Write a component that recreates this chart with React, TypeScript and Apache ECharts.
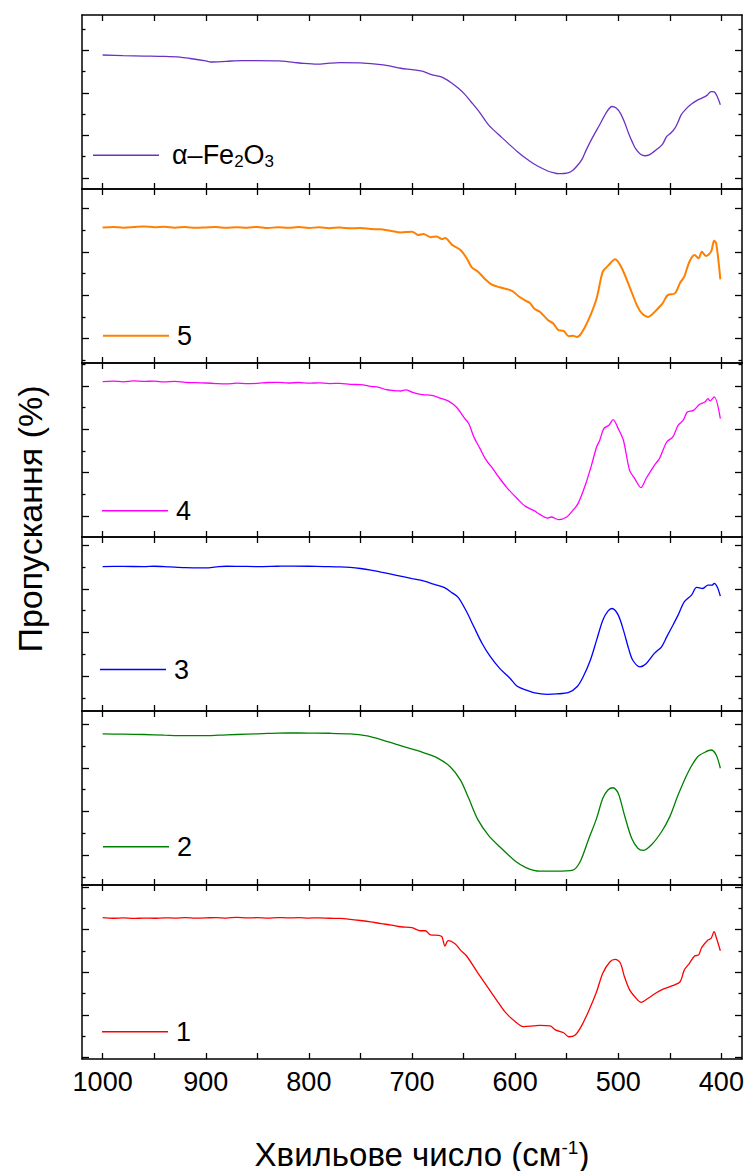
import React, { useEffect, useRef } from "react";
import * as echarts from "echarts";

// ---------- DATA ----------
const seriesNames = ["α–Fe2O3", "5", "4", "3", "2", "1"];
const seriesColors = ["#6A32C4", "#FF8000", "#FF00FF", "#0000FF", "#008000", "#FF0000"];

const xTickValues = [400, 450, 500, 550, 600, 650, 700, 750, 800, 850, 900, 950, 1000];
const xLabelValues = [400, 500, 600, 700, 800, 900, 1000];

const fe2o3Wn = [1000, 980, 960, 940, 925, 915, 900, 895, 880, 865, 850, 830, 815, 805, 792, 780, 770, 750, 735, 722, 711, 700, 690, 681, 671, 663, 655, 649, 643, 635, 626, 620, 614, 606, 598, 590, 582, 575, 569, 563, 558, 553, 548, 544, 540, 535, 531, 525, 518, 511, 506, 502, 498, 494, 490, 486, 483, 479, 474, 470, 466, 461, 457, 453, 449, 445, 442, 439, 434, 429, 424, 419, 414, 410, 407, 404, 401];
const fe2o3T = [77.0, 76.6, 76.4, 76.2, 75.8, 75.0, 73.6, 73.0, 73.4, 73.8, 73.8, 73.6, 72.8, 72.2, 71.8, 72.3, 72.6, 72.5, 71.8, 70.8, 69.4, 68.6, 67.7, 65.8, 64.3, 61.5, 57.9, 54.5, 50.3, 44.5, 37.0, 33.4, 30.2, 25.8, 21.6, 17.8, 14.5, 12.2, 10.5, 9.4, 8.8, 8.9, 9.4, 10.8, 13.2, 17.2, 22.5, 29.5, 36.9, 44.5, 47.4, 46.5, 43.6, 38.5, 32.1, 26.5, 23.0, 20.3, 19.1, 19.6, 21.2, 23.5, 25.8, 30.2, 32.2, 35.0, 38.5, 42.6, 46.2, 48.9, 50.8, 52.2, 53.8, 56.0, 55.8, 53.2, 48.4];

const s5Wn = [1000, 990, 980, 970, 960, 950, 940, 930, 920, 910, 900, 890, 880, 870, 860, 850, 840, 830, 820, 810, 800, 790, 780, 770, 760, 750, 740, 730, 720, 711, 700, 694, 689, 682, 676, 671, 668, 661, 653, 647, 642, 636, 629, 623, 615, 603, 597, 590, 586, 581, 576, 568, 563, 558, 553, 548, 544, 540, 536, 529, 521, 515, 510, 503, 497, 489, 482, 477, 471, 467, 463, 457, 452, 445, 440, 436, 431, 426, 422, 419, 415, 410, 407, 405, 401];
const s5T = [77.9, 78.2, 77.8, 78.1, 78.5, 78.0, 78.3, 77.8, 78.1, 77.7, 77.9, 78.1, 77.7, 78.0, 77.8, 78.2, 77.6, 78.0, 77.7, 78.1, 77.6, 78.0, 77.5, 77.9, 77.4, 77.6, 77.0, 76.8, 75.9, 75.0, 75.5, 73.6, 74.2, 72.3, 72.7, 71.2, 71.8, 67.9, 65.0, 60.2, 55.0, 52.5, 48.1, 45.2, 43.5, 41.5, 38.5, 35.8, 34.6, 31.0, 29.4, 24.6, 22.7, 18.9, 18.5, 15.4, 15.6, 15.0, 16.9, 24.6, 37.1, 52.5, 55.8, 59.6, 55.0, 43.8, 33.3, 28.5, 26.5, 28.0, 30.4, 34.3, 39.0, 40.0, 46.1, 49.6, 58.2, 62.1, 60.2, 64.0, 61.5, 64.0, 70.2, 68.8, 48.1];

const s4Wn = [1000, 990, 980, 970, 960, 950, 940, 930, 920, 910, 900, 890, 880, 870, 860, 850, 840, 830, 820, 810, 800, 790, 780, 770, 760, 750, 740, 732, 725, 718, 711, 706, 700, 690, 681, 671, 665, 657, 650, 645, 640, 634, 629, 621, 616, 608, 598, 590, 582, 576, 569, 565, 558, 550, 544, 539, 532, 526, 521, 518, 514, 509, 505, 500, 495, 489, 484, 478, 473, 465, 460, 453, 447, 442, 437, 433, 427, 421, 416, 413, 411, 407, 401];
const s4T = [89.3, 89.6, 89.2, 89.7, 89.4, 89.6, 89.1, 89.4, 88.9, 88.7, 88.5, 88.2, 88.0, 88.4, 88.1, 88.3, 88.8, 88.9, 88.5, 88.8, 88.4, 88.6, 88.2, 88.3, 87.7, 87.6, 86.6, 86.0, 84.7, 84.2, 83.9, 84.6, 83.3, 81.8, 81.4, 79.5, 78.2, 74.7, 69.0, 65.2, 57.5, 50.8, 45.1, 38.7, 34.5, 28.4, 22.1, 17.6, 15.3, 13.0, 10.9, 11.5, 10.0, 11.5, 15.3, 19.2, 29.7, 41.2, 51.7, 55.5, 62.3, 64.2, 67.5, 62.3, 55.6, 38.3, 33.6, 28.4, 33.6, 41.2, 45.1, 54.6, 57.5, 64.2, 67.1, 71.8, 72.8, 76.3, 77.6, 79.5, 78.2, 80.5, 68.0];

const s3Wn = [1000, 980, 960, 950, 935, 920, 900, 890, 880, 865, 850, 830, 815, 800, 785, 770, 760, 750, 740, 730, 715, 700, 689, 679, 669, 661, 655, 647, 640, 632, 624, 615, 605, 598, 589, 581, 569, 560, 548, 540, 534, 527, 521, 515, 510, 506, 500, 495, 490, 486, 479, 473, 465, 458, 453, 447, 442, 436, 429, 424, 418, 413, 409, 407, 404, 401];
const s3T = [83.0, 83.1, 83.0, 83.2, 82.8, 82.4, 82.3, 82.8, 83.2, 83.1, 83.0, 83.2, 83.3, 83.2, 83.0, 82.8, 82.5, 81.9, 81.0, 79.8, 78.0, 76.1, 74.8, 72.9, 71.0, 67.9, 65.2, 57.0, 48.4, 38.8, 31.2, 24.5, 18.8, 14.2, 12.0, 10.4, 9.6, 9.8, 10.7, 13.9, 19.7, 29.3, 40.7, 52.2, 57.4, 58.9, 55.1, 46.5, 36.0, 29.3, 25.4, 27.2, 33.1, 36.9, 42.6, 49.3, 55.1, 62.7, 66.6, 71.0, 70.4, 72.3, 72.3, 73.3, 71.3, 66.0];

const s2Wn = [1000, 980, 960, 940, 920, 900, 880, 860, 840, 820, 800, 780, 760, 745, 730, 715, 698, 687, 676, 663, 653, 645, 636, 626, 615, 600, 589, 576, 560, 544, 537, 529, 521, 515, 510, 505, 500, 494, 487, 481, 476, 468, 458, 450, 442, 432, 423, 416, 410, 405, 401];
const s2T = [86.8, 86.7, 86.5, 86.1, 85.8, 85.8, 86.3, 86.7, 87.1, 87.4, 87.3, 87.2, 86.8, 85.8, 83.6, 80.8, 77.8, 75.7, 73.2, 68.0, 60.3, 49.8, 37.4, 28.7, 22.0, 13.8, 9.9, 8.0, 8.0, 8.6, 13.4, 25.9, 38.3, 49.8, 54.6, 55.9, 52.7, 40.2, 26.8, 21.1, 19.9, 23.0, 30.6, 39.3, 51.7, 65.1, 73.7, 76.3, 77.6, 74.7, 67.1];

const s1Wn = [1000, 990, 980, 970, 960, 950, 940, 930, 920, 910, 900, 890, 880, 870, 860, 850, 840, 830, 820, 810, 800, 790, 780, 770, 760, 750, 740, 730, 720, 711, 700, 692, 687, 682, 674, 671, 668, 665, 658, 653, 647, 637, 627, 618, 610, 600, 592, 582, 576, 566, 561, 553, 548, 542, 536, 529, 521, 515, 508, 503, 498, 494, 489, 484, 478, 471, 463, 457, 448, 440, 436, 431, 426, 422, 419, 413, 410, 407, 405, 401];
const s1T = [81.2, 80.9, 81.1, 80.8, 81.0, 80.9, 81.1, 81.0, 81.3, 81.0, 81.1, 81.3, 81.0, 81.4, 81.1, 81.2, 81.0, 81.3, 81.1, 81.2, 81.0, 81.1, 80.9, 80.8, 80.3, 79.6, 78.8, 77.8, 77.0, 76.0, 75.5, 73.7, 73.7, 71.3, 71.1, 70.3, 64.9, 68.0, 66.1, 62.6, 59.2, 50.2, 41.6, 33.9, 27.2, 21.5, 18.6, 19.0, 19.3, 19.0, 16.7, 15.1, 12.8, 13.6, 18.6, 27.2, 38.7, 49.3, 55.9, 57.3, 55.2, 47.3, 39.7, 35.8, 32.6, 34.9, 38.1, 40.0, 42.0, 44.4, 51.1, 55.0, 59.2, 59.8, 64.2, 68.4, 69.3, 73.2, 70.0, 62.2];

const allWn = [fe2o3Wn, s5Wn, s4Wn, s3Wn, s2Wn, s1Wn];
const allT = [fe2o3T, s5T, s4T, s3T, s2T, s1T];

// ---------- LAYOUT ----------
const FONT = "'Liberation Sans', Arial, Helvetica, sans-serif";
const GRID_LEFT = 82;
const GRID_WIDTH = 660;
const GRID_TOP = 15;
const PANEL_H = 174;
const tickLayout = [
  [11, 21.3, 0],
  [2.7, 21.7, 1],
  [21, 21.7, 0],
  [12.7, 21.9, 1],
  [7.7, 21.9, 1],
  [1.5, 21.3, 0],
];
const legendLayout = [
  [93, 156.7, 8],
  [103, 337.3, 3],
  [102, 512.3, 3],
  [100, 671, 3],
  [103, 848.3, 3],
  [102, 1033.3, 3],
];

function buildOption() {
  const grid: any[] = [];
  const xAxis: any[] = [];
  const yAxis: any[] = [];
  const series: any[] = [];
  const legend: any[] = [];
  const axisLineStyle = { color: "#000", width: 1.5 };
  const tickLineStyle = { color: "#000", width: 1.3 };

  for (let i = 0; i < 6; i++) {
    grid.push({ left: GRID_LEFT, width: GRID_WIDTH, top: GRID_TOP + PANEL_H * i, height: PANEL_H, containLabel: false });
    const isLast = i === 5;
    ["bottom", "top"].forEach((pos) => {
      xAxis.push({
        gridIndex: i,
        type: "value",
        position: pos,
        min: 380,
        max: 1020,
        inverse: true,
        axisLine: { show: true, onZero: false, lineStyle: axisLineStyle },
        axisTick: { show: true, inside: true, length: 6, customValues: xTickValues, lineStyle: tickLineStyle },
        axisLabel: {
          show: isLast && pos === "bottom",
          customValues: xLabelValues,
          formatter: (v: number) => String(v),
          margin: 9,
          fontSize: 27,
          color: "#000",
          fontFamily: FONT,
        },
        splitLine: { show: false },
      });
    });
    const [first, step, parity] = tickLayout[i];
    const major: number[] = [];
    const minor: number[] = [];
    for (let k = 0; k < 9; k++) {
      const px = first + step * k;
      if (px > PANEL_H) break;
      const v = (px / PANEL_H) * 100;
      if (k % 2 === parity) major.push(v);
      else minor.push(v);
    }
    ["left", "right"].forEach((pos) => {
      [
        [major, 7, true],
        [minor, 3.5, false],
      ].forEach(([vals, len, line]: any) => {
        yAxis.push({
          gridIndex: i,
          type: "value",
          position: pos,
          min: 0,
          max: 100,
          axisLine: { show: line, onZero: false, lineStyle: axisLineStyle },
          axisTick: { show: true, inside: true, length: len, customValues: vals, lineStyle: tickLineStyle },
          axisLabel: { show: false },
          splitLine: { show: false },
        });
      });
    });
    const wn = allWn[i];
    const t = allT[i];
    series.push({
      name: seriesNames[i],
      type: "line",
      xAxisIndex: i * 2,
      yAxisIndex: i * 4,
      symbol: "none",
      smooth: 0.3,
      data: wn.map((x, j) => [x, t[j]]),
      lineStyle: { color: seriesColors[i], width: i === 1 ? 2 : 1.3 },
      itemStyle: { color: seriesColors[i] },
    });
    const [lx, ly, gap] = legendLayout[i];
    legend.push({
      data: [{ name: seriesNames[i], icon: "rect" }],
      left: lx,
      top: ly - 15,
      padding: 0,
      itemWidth: 66,
      itemHeight: i === 1 ? 2 : 1.4,
      selectedMode: false,
      itemStyle: { borderWidth: 0 },
      formatter: i === 0 ? () => "{a|α–Fe}{s|2}{a|O}{s|3}" : (n: string) => "{a|" + n + "}",
      textStyle: {
        color: "#000",
        fontFamily: FONT,
        fontSize: 27,
        padding: [0, 0, 0, gap],
        rich: {
          a: { fontSize: 27, lineHeight: 30, fontFamily: FONT, color: "#000" },
          s: { fontSize: 17, lineHeight: 12, verticalAlign: "bottom", fontFamily: FONT, color: "#000" },
        },
      },
    });
  }

  return {
    animation: false,
    backgroundColor: "#fff",
    grid,
    xAxis,
    yAxis,
    series,
    legend,
    graphic: [
      {
        type: "text",
        x: 30,
        y: 519,
        rotation: Math.PI / 2,
        style: {
          text: "Пропускання (%)",
          fontSize: 34,
          fontFamily: FONT,
          fill: "#000",
          align: "center",
          verticalAlign: "middle",
        },
      },
      {
        type: "text",
        x: 422,
        y: 1154,
        style: {
          text: "{a|Хвильове число (см}{s|-1}{a|)}",
          fontFamily: FONT,
          fill: "#000",
          align: "center",
          verticalAlign: "middle",
          rich: {
            a: { fontSize: 33, fontFamily: FONT, fill: "#000", verticalAlign: "bottom" },
            s: { fontSize: 19, fontFamily: FONT, fill: "#000", verticalAlign: "top" },
          },
        },
      },
    ],
  };
}

export default function App() {
  const ref = useRef<HTMLDivElement>(null);
  useEffect(() => {
    document.body.style.margin = "0";
    if (!ref.current) return;
    const chart = echarts.init(ref.current, null, { renderer: "svg" });
    chart.setOption(buildOption() as any);
    return () => chart.dispose();
  }, []);
  return <div ref={ref} style={{ width: 747, height: 1171 }} />;
}
